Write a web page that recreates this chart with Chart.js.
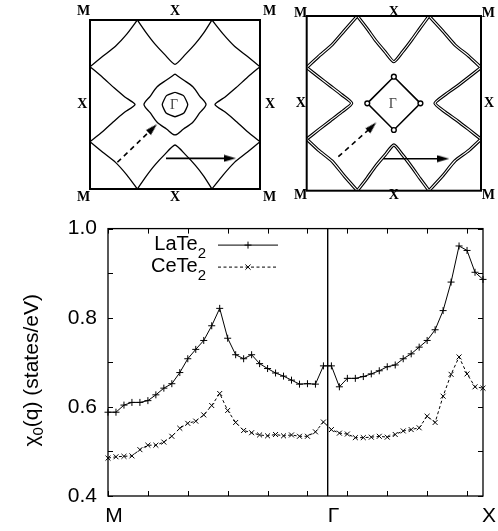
<!DOCTYPE html>
<html>
<head>
<meta charset="utf-8">
<script src="https://cdn.jsdelivr.net/npm/chart.js@4.4.1/dist/chart.umd.min.js"></script>
<style>
  html, body { margin: 0; padding: 0; background: #fff; }
  #wrap { position: relative; width: 498px; height: 531px; overflow: hidden; }
  canvas { position: absolute; }
</style>
</head>
<body>
<div id="wrap">
  <canvas id="fsLa" width="230" height="205" style="left:60px;top:0"></canvas>
  <canvas id="fsCe" width="218" height="205" style="left:280px;top:0"></canvas>
  <canvas id="chi" width="498" height="326" style="left:0;top:205px"></canvas>
</div>
<script>
// chi_0(q) along M -> Gamma -> X, one value per q step (index 0..47)
const seriesNames = ['LaTe2', 'CeTe2'];
const laTe2 = [0.588, 0.588, 0.604, 0.610, 0.610, 0.614, 0.627, 0.642, 0.652, 0.677,
               0.708, 0.729, 0.749, 0.782, 0.821, 0.754, 0.717, 0.708, 0.717, 0.697,
               0.686, 0.676, 0.669, 0.660, 0.651, 0.652, 0.651, 0.692, 0.692, 0.645,
               0.664, 0.664, 0.668, 0.674, 0.681, 0.690, 0.694, 0.708, 0.719, 0.734,
               0.749, 0.773, 0.816, 0.880, 0.961, 0.951, 0.902, 0.886];
const ceTe2 = [0.485, 0.488, 0.489, 0.490, 0.504, 0.514, 0.514, 0.521, 0.534, 0.552,
               0.563, 0.568, 0.582, 0.603, 0.630, 0.592, 0.565, 0.547, 0.542, 0.537,
               0.535, 0.538, 0.535, 0.537, 0.534, 0.534, 0.544, 0.566, 0.549, 0.541,
               0.539, 0.531, 0.531, 0.532, 0.534, 0.532, 0.538, 0.546, 0.549, 0.553,
               0.579, 0.565, 0.624, 0.673, 0.712, 0.674, 0.645, 0.642];
const symLabels = ['M', 'Γ', 'X'];
const symPos = [0, 27.5, 47];

// Fermi surfaces, Brillouin zone scaled to -1..1 (Gamma in the middle)
const laCorner = [
  [[-1, 0.447], [-0.85, 0.57], [-0.70, 0.69], [-0.57, 0.83], [-0.443, 1]],
  [[0.435, 1], [0.57, 0.83], [0.70, 0.69], [0.85, 0.57], [1, 0.447]],
  [[-1, -0.44], [-0.85, -0.565], [-0.70, -0.685], [-0.57, -0.83], [-0.443, -1]],
  [[0.435, -1], [0.57, -0.83], [0.70, -0.685], [0.85, -0.565], [1, -0.44]]
];
const laXpocket = [
  [[-0.443, 1], [-0.34, 0.85], [-0.24, 0.72], [-0.12, 0.59], [0, 0.476], [0.12, 0.59], [0.24, 0.72], [0.34, 0.85], [0.435, 1]],
  [[-0.443, -1], [-0.34, -0.85], [-0.24, -0.72], [-0.12, -0.59], [0, -0.479], [0.12, -0.59], [0.24, -0.72], [0.34, -0.85], [0.435, -1]],
  [[-1, 0.447], [-0.85, 0.32], [-0.72, 0.2], [-0.59, 0.09], [-0.47, 0], [-0.59, -0.09], [-0.72, -0.2], [-0.85, -0.32], [-1, -0.44]],
  [[1, 0.447], [0.85, 0.32], [0.72, 0.2], [0.59, 0.09], [0.47, 0], [0.59, -0.09], [0.72, -0.2], [0.85, -0.32], [1, -0.44]]
];
const laDiamond = [[0, 0.36], [0.1, 0.29], [0.21, 0.21], [0.29, 0.1], [0.365, 0], [0.29, -0.1], [0.21, -0.21], [0.1, -0.29],
                   [0, -0.36], [-0.1, -0.29], [-0.21, -0.21], [-0.29, -0.1], [-0.365, 0], [-0.29, 0.1], [-0.21, 0.21], [-0.1, 0.29], [0, 0.36]];
const laGamma = [[0, 0.145], [0.1, 0.105], [0.15, 0], [0.105, -0.1], [0, -0.145], [-0.105, -0.1], [-0.15, 0], [-0.1, 0.105], [0, 0.145]];
const laArrows = [[[-0.678, -0.684], [-0.262, -0.282]], [[-0.106, -0.637], [0.647, -0.637]]];

const ceCorner = [
  [[-1, 0.41], [-0.86, 0.54], [-0.71, 0.67], [-0.57, 0.83], [-0.419, 1]],
  [[0.403, 1], [0.56, 0.83], [0.70, 0.67], [0.86, 0.54], [1, 0.41]],
  [[-1, -0.41], [-0.86, -0.54], [-0.71, -0.66], [-0.57, -0.83], [-0.419, -1]],
  [[0.403, -1], [0.56, -0.83], [0.70, -0.66], [0.86, -0.54], [1, -0.41]]
];
const ceXpocket = [
  [[-0.419, 1], [-0.31, 0.86], [-0.21, 0.72], [-0.1, 0.59], [0, 0.477], [0.1, 0.59], [0.2, 0.72], [0.3, 0.86], [0.403, 1]],
  [[-0.419, -1], [-0.31, -0.86], [-0.21, -0.72], [-0.1, -0.59], [0, -0.477], [0.1, -0.59], [0.2, -0.72], [0.3, -0.86], [0.403, -1]],
  [[-1, 0.41], [-0.86, 0.3], [-0.73, 0.2], [-0.6, 0.1], [-0.484, 0], [-0.6, -0.1], [-0.73, -0.2], [-0.86, -0.3], [-1, -0.41]],
  [[1, 0.41], [0.86, 0.3], [0.73, 0.2], [0.59, 0.1], [0.472, 0], [0.59, -0.1], [0.73, -0.2], [0.86, -0.3], [1, -0.41]]
];
const ceDiamond = [[0, 0.305], [0.305, 0], [0, -0.305], [-0.305, 0], [0, 0.305]];
const ceArrows = [[[-0.637, -0.611], [-0.25, -0.267]], [[-0.121, -0.634], [0.567, -0.634]]];

// ---------- Fermi surface panels ----------
function curve(data, extra) {
  return Object.assign({ data: data, showLine: true, pointRadius: 0, borderColor: '#000',
                         borderWidth: 1.3, tension: 0.2, fill: false, order: 1 }, extra);
}

// narrow arrow head, pointing up before rotation
const head = document.createElement('canvas');
head.width = 8; head.height = 12;
(function () {
  const c = head.getContext('2d');
  c.fillStyle = '#000';
  c.beginPath(); c.moveTo(4, 0); c.lineTo(7.5, 12); c.lineTo(0.5, 12); c.closePath(); c.fill();
})();

function arrows(list) {
  return list.map((a, i) => ({
    data: a, showLine: true, borderColor: '#000', borderWidth: 1.6, order: 0,
    borderDash: i === 0 ? [5, 4] : [],
    pointRadius: [0, 6], pointStyle: [false, head], pointRotation: [0, i === 0 ? 45 : 90]
  }));
}

const bzFrame = {
  id: 'bzFrame',
  afterDraw(chart, args, o) {
    const { ctx, chartArea: a } = chart;
    ctx.save();
    ctx.strokeStyle = '#000';
    ctx.lineWidth = 2;
    ctx.strokeRect(a.left, a.top, a.right - a.left, a.bottom - a.top);
    const xs = [a.left - o.dl, (a.left + a.right) / 2, a.right + o.dr];
    const ys = [a.top - o.dt, (a.top + a.bottom) / 2, a.bottom + o.db];
    ctx.textAlign = 'center';
    ctx.textBaseline = 'middle';
    for (let i = 0; i < 3; i++) {
      for (let j = 0; j < 3; j++) {
        if (i === 1 && j === 1) {
          ctx.font = '14px "Liberation Serif"';
          ctx.fillStyle = '#444';
          ctx.fillText('Γ', xs[1] - 1, ys[1] + 1);
          continue;
        }
        let x = xs[i], y = ys[j];
        if (i === 1) y = j === 0 ? a.top - o.et : a.bottom + o.eb;
        if (j === 1) x = i === 0 ? a.left - o.el : a.right + o.er;
        ctx.font = 'bold 14px "Liberation Serif"';
        ctx.fillStyle = '#000';
        ctx.fillText((i !== 1 && j !== 1) ? 'M' : 'X', x, y);
      }
    }
    ctx.restore();
  }
};

function bzOptions(pad, lab) {
  return {
    responsive: false, animation: false,
    layout: { padding: pad },
    plugins: { legend: { display: false }, tooltip: { enabled: false }, bzFrame: lab },
    scales: {
      x: { type: 'linear', min: -1, max: 1, display: false },
      y: { type: 'linear', min: -1, max: 1, display: false }
    }
  };
}

const laSets = [
  ...laCorner.map(c => curve(c)),
  ...laXpocket.map(c => curve(c)),
  curve(laDiamond, { tension: 0.3 }),
  curve(laGamma, { tension: 0.15, borderWidth: 1.3 }),
  ...arrows(laArrows)
];
new Chart(document.getElementById('fsLa'), {
  type: 'scatter',
  data: { datasets: laSets },
  options: bzOptions({ left: 30, right: 30, top: 20, bottom: 16 },
                     { dl: 6.5, dr: 9.5, dt: 8.7, db: 8.8, el: 7.7, er: 10, et: 9, eb: 8.8 }),
  plugins: [bzFrame]
});

const ceSets = [];
[...ceCorner, ...ceXpocket].forEach(c => {
  ceSets.push(curve(c, { borderWidth: 3.3, order: 2 }));
  ceSets.push(curve(c, { borderWidth: 1.1, borderColor: '#fff', order: 1 }));
});
ceSets.push(curve(ceDiamond, { tension: 0, borderWidth: 1.6 }));
ceSets.push({ data: ceDiamond.slice(0, 4), showLine: false, pointRadius: 2.4, pointStyle: 'circle',
              pointBackgroundColor: '#fff', pointBorderColor: '#000', pointBorderWidth: 1.4, order: 0 });
ceSets.push(...arrows(ceArrows));
new Chart(document.getElementById('fsCe'), {
  type: 'scatter',
  data: { datasets: ceSets },
  options: bzOptions({ left: 26.7, right: 17, top: 16, bottom: 14.3 },
                     { dl: 6, dr: 7.3, dt: 2.5, db: 5.1, el: 6, er: 8, et: 3.5, eb: 5.1 }),
  plugins: [bzFrame]
});

// ---------- chi_0(q) ----------
const FONT = '"Liberation Sans", Arial, sans-serif';

function drawSubText(ctx, name, x, y, size, subSize, subDy, align) {
  // trailing digits are drawn as a subscript
  const m = name.match(/^(.*?)(\d*)$/);
  ctx.font = size + 'px ' + FONT;
  const w1 = ctx.measureText(m[1]).width;
  ctx.font = subSize + 'px ' + FONT;
  const w2 = ctx.measureText(m[2]).width;
  let x0 = align === 'right' ? x - w1 - w2 : align === 'center' ? x - (w1 + w2) / 2 : x;
  ctx.textAlign = 'left';
  ctx.font = size + 'px ' + FONT;
  ctx.fillText(m[1], x0, y);
  ctx.font = subSize + 'px ' + FONT;
  ctx.fillText(m[2], x0 + w1, y + subDy);
}

const chiFrame = {
  id: 'chiFrame',
  afterDraw(chart) {
    const { ctx, chartArea: a, scales: { x, y } } = chart;
    ctx.save();
    ctx.strokeStyle = '#000';
    ctx.lineWidth = 1;
    ctx.beginPath();
    x.ticks.forEach(t => {
      if (t.value % 5 !== 0) return;
      const px = Math.round(x.getPixelForValue(t.value)) + 0.5;
      ctx.moveTo(px, a.bottom); ctx.lineTo(px, a.bottom - 5);
      ctx.moveTo(px, a.top); ctx.lineTo(px, a.top + 5);
    });
    y.ticks.forEach(t => {
      const py = Math.round(y.getPixelForValue(t.value)) + 0.5;
      ctx.moveTo(a.left, py); ctx.lineTo(a.left + 5, py);
      ctx.moveTo(a.right, py); ctx.lineTo(a.right - 5, py);
    });
    ctx.stroke();
    ctx.lineWidth = 1.3;
    ctx.strokeRect(a.left, a.top, a.right - a.left, a.bottom - a.top);

    // key, gnuplot style: text on the left, sample on the right
    ctx.fillStyle = '#000';
    ctx.textBaseline = 'alphabetic';
    chart.data.datasets.forEach((ds, i) => {
      const base = a.top + 21 + i * 22;
      drawSubText(ctx, ds.label, a.left + 98, base, 20, 15, 8, 'right');
      const ly = base - 4.5;
      ctx.beginPath();
      ctx.lineWidth = 1;
      ctx.setLineDash(ds.borderDash || []);
      ctx.moveTo(a.left + 110, ly); ctx.lineTo(a.left + 170, ly);
      ctx.stroke();
      ctx.setLineDash([]);
      ctx.beginPath();
      const cx = a.left + 140;
      if (ds.pointStyle === 'cross') {
        ctx.moveTo(cx - 3.5, ly); ctx.lineTo(cx + 3.5, ly);
        ctx.moveTo(cx, ly - 3.5); ctx.lineTo(cx, ly + 3.5);
      } else {
        ctx.moveTo(cx - 2.6, ly - 2.6); ctx.lineTo(cx + 2.6, ly + 2.6);
        ctx.moveTo(cx - 2.6, ly + 2.6); ctx.lineTo(cx + 2.6, ly - 2.6);
      }
      ctx.stroke();
    });

    // y axis title with subscript
    ctx.translate(30, (a.top + a.bottom) / 2 + 8);
    ctx.rotate(-Math.PI / 2);
    ctx.textBaseline = 'alphabetic';
    const parts = [['χ', 21, 0], ['0', 15, 5], ['(q) (states/eV)', 21, 0]];
    let total = 0;
    parts.forEach(p => { ctx.font = p[1] + 'px ' + FONT; total += ctx.measureText(p[0]).width; });
    let tx = -total / 2;
    parts.forEach(p => {
      ctx.font = p[1] + 'px ' + FONT;
      ctx.fillText(p[0], tx, 7.5 + p[2]);
      tx += ctx.measureText(p[0]).width;
    });
    ctx.restore();
  }
};

new Chart(document.getElementById('chi'), {
  type: 'line',
  data: {
    datasets: [
      { label: seriesNames[0], data: laTe2.map((v, i) => ({ x: i, y: v })),
        borderColor: '#000', borderWidth: 1, pointStyle: 'cross', pointRadius: 3.5,
        pointBorderColor: '#000', pointBorderWidth: 1, tension: 0, clip: 5 },
      { label: seriesNames[1], data: ceTe2.map((v, i) => ({ x: i, y: v })),
        borderColor: '#000', borderWidth: 1, borderDash: [3, 2.5], pointStyle: 'crossRot', pointRadius: 3.5,
        pointBorderColor: '#000', pointBorderWidth: 1, tension: 0, clip: 5 }
    ]
  },
  options: {
    responsive: false, animation: false,
    layout: { padding: { top: 20, right: 15, left: 0, bottom: 0 } },
    plugins: { legend: { display: false }, tooltip: { enabled: false } },
    scales: {
      x: {
        type: 'linear', min: 0, max: 47,
        afterBuildTicks: s => {
          const t = [];
          for (let v = 0; v <= 45; v += 5) t.push(v);
          s.ticks = t.concat(symPos.slice(1)).sort((p, q) => p - q).map(v => ({ value: v }));
        },
        afterFit: s => { s.height = 35; },
        grid: { drawTicks: false, lineWidth: 1.4,
                color: c => (c.tick && c.tick.value === symPos[1]) ? '#000' : 'rgba(0,0,0,0)' },
        border: { display: false },
        ticks: { autoSkip: false, maxRotation: 0, padding: 8, labelOffset: 6, color: '#000',
                 font: { family: FONT, size: 21 },
                 callback: v => { const k = symPos.indexOf(v); return k >= 0 ? symLabels[k] : ''; } }
      },
      y: {
        min: 0.4, max: 1.0,
        afterFit: s => { s.width = 108; },
        grid: { display: false, drawTicks: false },
        border: { display: false },
        ticks: { stepSize: 0.1, padding: 11, color: '#000', font: { family: FONT, size: 21 },
                 callback: v => Math.round(v * 10) % 2 === 0 ? v.toFixed(1) : '' }
      }
    }
  },
  plugins: [chiFrame]
});
</script>
</body>
</html>
